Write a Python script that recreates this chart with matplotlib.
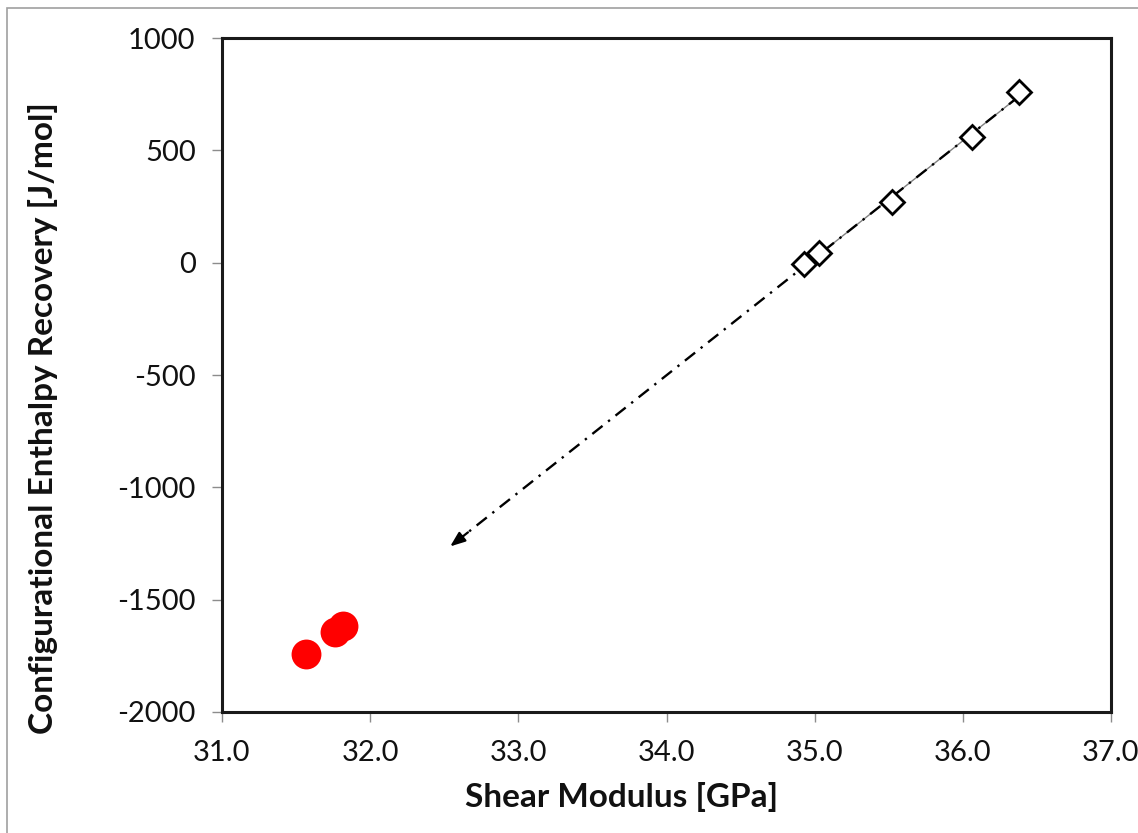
import numpy as np
import matplotlib
matplotlib.use("Agg")
import matplotlib.pyplot as plt
from matplotlib.patches import Rectangle

plt.rcParams['font.family'] = ['Lato', 'DejaVu Sans']

# Measured samples (open diamonds)
shear_modulus = [34.93, 35.03, 35.52, 36.06, 36.38]
enthalpy_recovery = [-6, 43, 270, 560, 760]

# Reference samples (red circles)
ref_shear_modulus = [31.57, 31.76, 31.82]
ref_enthalpy_recovery = [-1741, -1643, -1617]

# Extrapolation target along the linear fit
extrap_x = 32.54

x_ticks = [31.0, 32.0, 33.0, 34.0, 35.0, 36.0, 37.0]
y_ticks = [-2000, -1500, -1000, -500, 0, 500, 1000]

W, H = 1138, 833
fig = plt.figure(figsize=(W / 100, H / 100), dpi=100)
ax = fig.add_axes([222 / W, 1 - 712 / H, (1111 - 222) / W, (712 - 38) / H])

# outer frame of the chart area
fig.add_artist(Rectangle((7 / W, -0.05), 1.2, 1 - 8 / H + 0.05, transform=fig.transFigure,
                         fill=False, edgecolor='#a0a0a0', linewidth=1.2))

# linear fit through measured samples
slope, intercept = np.polyfit(shear_modulus, enthalpy_recovery, 1)
xf = np.array([min(shear_modulus), max(shear_modulus)])
ax.plot(xf, slope * xf + intercept, color='#808080', lw=1.0, zorder=2)

# dash-dot extrapolation of the fit with arrowhead
x_start = max(shear_modulus)
y_start = slope * x_start + intercept
y_end = slope * extrap_x + intercept
line, = ax.plot([x_start, extrap_x], [y_start, y_end], color='black', lw=1.7, zorder=3)
line.set_dashes([5.5, 3.0, 1.0, 3.0])
ax.annotate('', xy=(extrap_x, y_end),
            xytext=(extrap_x + 0.12, y_end + 0.12 * slope),
            arrowprops=dict(arrowstyle='-|>,head_length=0.9,head_width=0.35',
                            color='black', lw=1.6, shrinkA=0, shrinkB=0), zorder=3)

ax.plot(shear_modulus, enthalpy_recovery, linestyle='none', marker='D', markersize=12,
        markerfacecolor='white', markeredgecolor='black', markeredgewidth=2.0, zorder=4)
ax.plot(ref_shear_modulus, ref_enthalpy_recovery, linestyle='none', marker='o', markersize=21.5,
        markerfacecolor='#ff0000', markeredgecolor='#ff0000', markeredgewidth=0, zorder=4)

ax.set_xlim(31.0, 37.0)
ax.set_ylim(-2000, 1000)
ax.set_xticks(x_ticks)
ax.set_xticklabels([f"{v:.1f}" for v in x_ticks])
ax.set_yticks(y_ticks)
ax.set_yticklabels([str(v) for v in y_ticks])

for s in ax.spines.values():
    s.set_linewidth(2.2)
    s.set_color('#1a1a1a')
ax.tick_params(axis='both', direction='out', length=7, width=1.0, color='#8c8c8c',
               labelsize=21, labelcolor='#111111')
ax.tick_params(axis='x', pad=13)
ax.tick_params(axis='y', pad=12)
ax.tick_params(top=False, right=False)

fig.text(622 / W, 1 - 797 / H, 'Shear Modulus [GPa]', ha='center', va='center',
         fontsize=24, fontweight='bold', color='#111111')
fig.text(43 / W, 1 - 418 / H, 'Configurational Enthalpy Recovery [J/mol]', ha='center',
         va='center', rotation=90, fontsize=24, fontweight='bold', color='#111111')

fig.savefig('out.png', dpi=100)
